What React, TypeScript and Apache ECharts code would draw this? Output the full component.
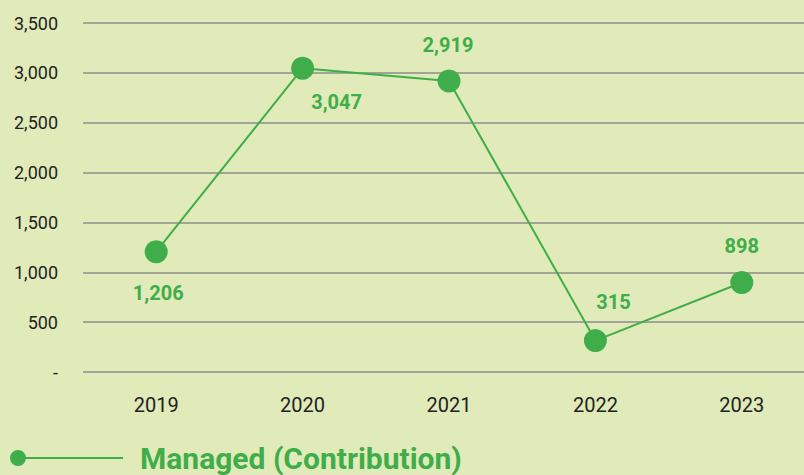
import React, { useEffect, useRef } from "react";
import * as echarts from "echarts";

const categories = ["2019", "2020", "2021", "2022", "2023"];
const managedValues = [1206, 3047, 2919, 315, 898];
const seriesName = "Managed (Contribution)";

const GREEN = "#3fae4a";
const BG = "#e0ebb9";
const FONT = "'Roboto', 'Noto Sans', sans-serif";

const labelPos: any[] = [
  { position: "bottom", distance: 20, offset: [2, 0] },
  { position: "bottom", distance: 12, offset: [34, 0] },
  { position: "top", distance: 14, offset: [-1, 0] },
  { position: "top", distance: 17, offset: [18, 0] },
  { position: "top", distance: 15, offset: [0, 0] },
];

const fmt = (v: number) => (v === 0 ? "-" : v.toLocaleString("en-US"));

export default function App() {
  const ref = useRef<HTMLDivElement>(null);
  useEffect(() => {
    document.body.style.margin = "0";
    const chart = echarts.init(ref.current!, null, { renderer: "svg" });
    chart.setOption({
      animation: false,
      backgroundColor: BG,
      grid: {
        left: 83,
        width: 732,
        top: 23,
        bottom: 103,
        outerBoundsMode: "none",
        containLabel: false,
      },
      legend: {
        left: 10,
        top: 443,
        padding: 0,
        data: [seriesName],
        itemWidth: 113,
        itemHeight: 16,
        icon: "path://M8,0 A8,8 0 1,1 8,16 A8,8 0 1,1 8,0 Z M14,7 L113,7 L113,9 L14,9 Z",
        textStyle: {
          color: GREEN,
          fontSize: 30,
          fontWeight: "bold",
          fontFamily: FONT,
          padding: [0, 0, 0, 12],
        },
        itemStyle: { color: GREEN },
      },
      xAxis: {
        type: "category",
        data: categories,
        boundaryGap: true,
        axisLine: { show: false },
        axisTick: { show: false },
        axisLabel: {
          color: "#222",
          fontSize: 20,
          margin: 23,
          fontFamily: FONT,
        },
      },
      yAxis: {
        type: "value",
        min: 0,
        max: 3500,
        interval: 500,
        axisLine: { show: false },
        axisTick: { show: false },
        axisLabel: {
          color: "#222",
          fontSize: 18,
          margin: 25,
          fontFamily: FONT,
          formatter: fmt,
        },
        splitLine: { lineStyle: { color: "#8c8c8c", width: 1.5 } },
      },
      series: [
        {
          name: seriesName,
          type: "line",
          data: managedValues.map((v, i) => ({
            value: v,
            label: labelPos[i],
          })),
          symbol: "circle",
          symbolSize: 23,
          lineStyle: { color: GREEN, width: 2 },
          itemStyle: { color: GREEN },
          label: {
            show: true,
            color: GREEN,
            fontSize: 20,
            fontWeight: "bold",
            fontFamily: FONT,
            formatter: (p: any) => fmt(p.value),
          },
        },
      ],
    });
    return () => chart.dispose();
  }, []);
  return <div ref={ref} style={{ width: 804, height: 475 }} />;
}
